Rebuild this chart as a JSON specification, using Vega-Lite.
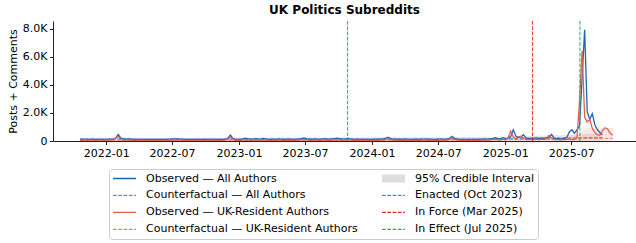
{
  "$schema": "https://vega.github.io/schema/vega-lite/v6.json",
  "width": 583,
  "height": 120,
  "autosize": "none",
  "padding": {"left": 53, "top": 21, "right": 0, "bottom": 102},
  "title": {"text": "UK Politics Subreddits", "fontSize": 12, "fontWeight": "bold", "font": "DejaVu Sans", "offset": 4, "anchor": "middle", "color": "#000"},
  "config": {
    "view": {"stroke": null},
    "font": "DejaVu Sans",
    "axis": {"grid": false, "domainColor": "#222", "tickColor": "#222", "tickSize": 3.5, "labelFontSize": 11, "labelColor": "#000", "labelFont": "DejaVu Sans", "titleFont": "DejaVu Sans", "titleFontSize": 11, "titleFontWeight": "normal", "titleColor": "#000", "labelPadding": 2.5, "labelOverlap": false},
    "axisY": {"values": [0,2000,4000,6000,8000], "labelExpr": "datum.value == 0 ? '0' : format(datum.value/1000, '.1f') + 'K'", "titlePadding": 4},
    "legend": {
      "orient": "none", "legendX": 56, "legendY": 148, "columns": 2, "title": null,
      "symbolType": "stroke", "symbolSize": 529, "symbolOpacity": 1, "symbolStrokeWidth": 1.3,
      "labelFont": "DejaVu Sans", "labelFontSize": 11, "labelColor": "#000", "labelOffset": 9, "labelLimit": 300,
      "clipHeight": 12.7, "rowPadding": 4, "columnPadding": 23, "padding": 3,
      "strokeColor": "#cccccc", "fillColor": "white", "cornerRadius": 3
    }
  },
  "datasets": {
    "w": [
      {"d":"2021-10-21","a":120,"u":60},{"d":"2021-10-28","a":130,"u":55},{"d":"2021-11-04","a":115,"u":60},{"d":"2021-11-11","a":125,"u":65},{"d":"2021-11-18","a":120,"u":55},{"d":"2021-11-25","a":130,"u":60},{"d":"2021-12-02","a":115,"u":50},{"d":"2021-12-09","a":120,"u":55},{"d":"2021-12-16","a":125,"u":60},{"d":"2021-12-23","a":110,"u":50},{"d":"2021-12-30","a":115,"u":55},
      {"d":"2022-01-06","a":120,"u":60},{"d":"2022-01-13","a":130,"u":60},{"d":"2022-01-20","a":140,"u":80},{"d":"2022-01-27","a":200,"u":220},{"d":"2022-02-03","a":470,"u":330},{"d":"2022-02-10","a":220,"u":90},{"d":"2022-02-17","a":150,"u":60},{"d":"2022-02-24","a":140,"u":55},{"d":"2022-03-03","a":150,"u":60},{"d":"2022-03-10","a":135,"u":55},{"d":"2022-03-17","a":120,"u":50},{"d":"2022-03-24","a":125,"u":55},{"d":"2022-03-31","a":115,"u":50},{"d":"2022-04-07","a":120,"u":55},{"d":"2022-04-14","a":110,"u":50},{"d":"2022-04-21","a":115,"u":50},{"d":"2022-04-28","a":110,"u":45},{"d":"2022-05-05","a":105,"u":50},{"d":"2022-05-12","a":110,"u":45},{"d":"2022-05-19","a":115,"u":50},{"d":"2022-05-26","a":110,"u":45},{"d":"2022-06-02","a":105,"u":50},{"d":"2022-06-09","a":110,"u":45},{"d":"2022-06-16","a":120,"u":50},{"d":"2022-06-23","a":130,"u":55},{"d":"2022-06-30","a":140,"u":60},{"d":"2022-07-07","a":150,"u":60},{"d":"2022-07-14","a":145,"u":55},{"d":"2022-07-21","a":140,"u":60},{"d":"2022-07-28","a":130,"u":55},{"d":"2022-08-04","a":120,"u":50},{"d":"2022-08-11","a":115,"u":50},{"d":"2022-08-18","a":110,"u":45},{"d":"2022-08-25","a":115,"u":50},{"d":"2022-09-01","a":110,"u":45},{"d":"2022-09-08","a":125,"u":55},{"d":"2022-09-15","a":120,"u":50},{"d":"2022-09-22","a":115,"u":50},{"d":"2022-09-29","a":125,"u":55},{"d":"2022-10-06","a":120,"u":50},{"d":"2022-10-13","a":115,"u":50},{"d":"2022-10-20","a":125,"u":55},{"d":"2022-10-27","a":120,"u":50},{"d":"2022-11-03","a":115,"u":50},{"d":"2022-11-10","a":110,"u":45},{"d":"2022-11-17","a":115,"u":50},{"d":"2022-11-24","a":130,"u":60},{"d":"2022-12-01","a":200,"u":150},{"d":"2022-12-08","a":430,"u":300},{"d":"2022-12-15","a":180,"u":100},{"d":"2022-12-22","a":120,"u":55},{"d":"2022-12-29","a":110,"u":50},
      {"d":"2023-01-05","a":120,"u":55},{"d":"2023-01-12","a":150,"u":60},{"d":"2023-01-19","a":200,"u":70},{"d":"2023-01-26","a":150,"u":60},{"d":"2023-02-02","a":130,"u":55},{"d":"2023-02-09","a":140,"u":60},{"d":"2023-02-16","a":170,"u":65},{"d":"2023-02-23","a":140,"u":55},{"d":"2023-03-02","a":130,"u":60},{"d":"2023-03-09","a":190,"u":70},{"d":"2023-03-16","a":140,"u":60},{"d":"2023-03-23","a":120,"u":55},{"d":"2023-03-30","a":125,"u":50},{"d":"2023-04-06","a":130,"u":55},{"d":"2023-04-13","a":120,"u":50},{"d":"2023-04-20","a":150,"u":60},{"d":"2023-04-27","a":130,"u":55},{"d":"2023-05-04","a":120,"u":50},{"d":"2023-05-11","a":125,"u":55},{"d":"2023-05-18","a":130,"u":50},{"d":"2023-05-25","a":120,"u":55},{"d":"2023-06-01","a":115,"u":50},{"d":"2023-06-08","a":125,"u":55},{"d":"2023-06-15","a":130,"u":60},{"d":"2023-06-22","a":170,"u":90},{"d":"2023-06-29","a":220,"u":110},{"d":"2023-07-06","a":150,"u":70},{"d":"2023-07-13","a":130,"u":55},{"d":"2023-07-20","a":125,"u":50},{"d":"2023-07-27","a":150,"u":60},{"d":"2023-08-03","a":130,"u":55},{"d":"2023-08-10","a":120,"u":50},{"d":"2023-08-17","a":140,"u":55},{"d":"2023-08-24","a":160,"u":60},{"d":"2023-08-31","a":140,"u":55},{"d":"2023-09-07","a":130,"u":50},{"d":"2023-09-14","a":150,"u":55},{"d":"2023-09-21","a":170,"u":60},{"d":"2023-09-28","a":200,"u":70},{"d":"2023-10-05","a":150,"u":60},{"d":"2023-10-12","a":130,"u":55},{"d":"2023-10-19","a":140,"u":60},{"d":"2023-10-26","a":180,"u":80},{"d":"2023-11-02","a":140,"u":60},{"d":"2023-11-09","a":125,"u":55},{"d":"2023-11-16","a":120,"u":50},{"d":"2023-11-23","a":130,"u":55},{"d":"2023-11-30","a":120,"u":50},{"d":"2023-12-07","a":115,"u":50},{"d":"2023-12-14","a":125,"u":55},{"d":"2023-12-21","a":120,"u":50},{"d":"2023-12-28","a":110,"u":45},
      {"d":"2024-01-04","a":120,"u":50},{"d":"2024-01-11","a":130,"u":55},{"d":"2024-01-18","a":125,"u":50},{"d":"2024-01-25","a":140,"u":60},{"d":"2024-02-01","a":150,"u":70},{"d":"2024-02-08","a":200,"u":110},{"d":"2024-02-15","a":270,"u":150},{"d":"2024-02-22","a":160,"u":80},{"d":"2024-02-29","a":130,"u":60},{"d":"2024-03-07","a":125,"u":55},{"d":"2024-03-14","a":130,"u":50},{"d":"2024-03-21","a":120,"u":50},{"d":"2024-03-28","a":125,"u":55},{"d":"2024-04-04","a":130,"u":50},{"d":"2024-04-11","a":120,"u":55},{"d":"2024-04-18","a":115,"u":50},{"d":"2024-04-25","a":125,"u":50},{"d":"2024-05-02","a":130,"u":55},{"d":"2024-05-09","a":120,"u":50},{"d":"2024-05-16","a":125,"u":55},{"d":"2024-05-23","a":140,"u":60},{"d":"2024-05-30","a":130,"u":55},{"d":"2024-06-06","a":125,"u":50},{"d":"2024-06-13","a":120,"u":55},{"d":"2024-06-20","a":115,"u":50},{"d":"2024-06-27","a":120,"u":50},{"d":"2024-07-04","a":130,"u":55},{"d":"2024-07-11","a":125,"u":60},{"d":"2024-07-18","a":120,"u":55},{"d":"2024-07-25","a":140,"u":70},{"d":"2024-08-01","a":190,"u":120},{"d":"2024-08-08","a":330,"u":230},{"d":"2024-08-15","a":180,"u":100},{"d":"2024-08-22","a":130,"u":60},{"d":"2024-08-29","a":120,"u":55},{"d":"2024-09-05","a":115,"u":50},{"d":"2024-09-12","a":120,"u":55},{"d":"2024-09-19","a":110,"u":50},{"d":"2024-09-26","a":115,"u":50},{"d":"2024-10-03","a":120,"u":55},{"d":"2024-10-10","a":110,"u":50},{"d":"2024-10-17","a":115,"u":50},{"d":"2024-10-24","a":120,"u":55},{"d":"2024-10-31","a":125,"u":60},{"d":"2024-11-07","a":140,"u":70},{"d":"2024-11-14","a":130,"u":60},{"d":"2024-11-21","a":150,"u":80},{"d":"2024-11-28","a":170,"u":100},{"d":"2024-12-05","a":230,"u":150},{"d":"2024-12-12","a":160,"u":90},{"d":"2024-12-19","a":150,"u":80},{"d":"2024-12-26","a":240,"u":120},
      {"d":"2025-01-02","a":160,"u":90},{"d":"2025-01-09","a":200,"u":250},{"d":"2025-01-16","a":320,"u":700},{"d":"2025-01-23","a":800,"u":300},{"d":"2025-01-30","a":350,"u":150},{"d":"2025-02-06","a":250,"u":300},{"d":"2025-02-13","a":300,"u":330},{"d":"2025-02-20","a":450,"u":200},{"d":"2025-02-27","a":220,"u":110},{"d":"2025-03-06","a":180,"u":100},{"d":"2025-03-13","a":200,"u":110},{"d":"2025-03-20","a":180,"u":100},{"d":"2025-03-27","a":220,"u":130},{"d":"2025-04-03","a":180,"u":100},{"d":"2025-04-10","a":200,"u":120},{"d":"2025-04-17","a":180,"u":110},{"d":"2025-04-24","a":230,"u":160},{"d":"2025-05-01","a":250,"u":400},{"d":"2025-05-08","a":480,"u":200},{"d":"2025-05-15","a":200,"u":110},{"d":"2025-05-22","a":170,"u":100},{"d":"2025-05-29","a":160,"u":90},{"d":"2025-06-05","a":150,"u":90},{"d":"2025-06-12","a":170,"u":100},{"d":"2025-06-19","a":250,"u":110},{"d":"2025-06-26","a":650,"u":130},{"d":"2025-07-03","a":800,"u":110},{"d":"2025-07-10","a":550,"u":100},{"d":"2025-07-17","a":800,"u":250},{"d":"2025-07-24","a":1100,"u":2900},{"d":"2025-07-31","a":4500,"u":6450},{"d":"2025-08-07","a":7950,"u":1700},{"d":"2025-08-14","a":2100,"u":1350},{"d":"2025-08-21","a":1550,"u":1550},{"d":"2025-08-28","a":1950,"u":900},{"d":"2025-09-04","a":1150,"u":600},{"d":"2025-09-11","a":800,"u":450},{"d":"2025-09-18","a":600,"u":420},{"d":"2025-09-25","a":450,"u":750},{"d":"2025-10-02","a":null,"u":950},{"d":"2025-10-09","a":null,"u":850},{"d":"2025-10-16","a":null,"u":550},{"d":"2025-10-23","a":null,"u":420}
    ],
    "b": [
      {"d":"2021-10-21","ca":130,"cu":55,"al":20,"ah":240,"ul":0,"uh":110},
      {"d":"2022-04-21","ca":125,"cu":55,"al":20,"ah":240,"ul":0,"uh":110},
      {"d":"2022-10-20","ca":125,"cu":55,"al":20,"ah":240,"ul":0,"uh":110},
      {"d":"2023-04-20","ca":130,"cu":55,"al":20,"ah":250,"ul":0,"uh":110},
      {"d":"2023-10-19","ca":135,"cu":60,"al":20,"ah":260,"ul":0,"uh":120},
      {"d":"2024-04-18","ca":130,"cu":60,"al":20,"ah":260,"ul":0,"uh":120},
      {"d":"2024-10-17","ca":140,"cu":70,"al":20,"ah":280,"ul":0,"uh":140},
      {"d":"2025-01-02","ca":170,"cu":90,"al":30,"ah":330,"ul":0,"uh":180},
      {"d":"2025-03-20","ca":200,"cu":110,"al":40,"ah":380,"ul":0,"uh":220},
      {"d":"2025-06-19","ca":220,"cu":130,"al":40,"ah":420,"ul":0,"uh":280},
      {"d":"2025-07-24","ca":230,"cu":160,"al":40,"ah":450,"ul":0,"uh":500},
      {"d":"2025-08-07","ca":240,"cu":180,"al":40,"ah":500,"ul":0,"uh":900},
      {"d":"2025-09-25","ca":250,"cu":190,"al":40,"ah":550,"ul":0,"uh":920},
      {"d":"2025-10-23","ca":null,"cu":190,"al":null,"ah":null,"ul":0,"uh":920}
    ],
    "r": [
      {"d":"2023-10-26","k":"Enacted (Oct 2023)"},
      {"d":"2025-03-17","k":"In Force (Mar 2025)"},
      {"d":"2025-07-25","k":"In Effect (Jul 2025)"}
    ]
  },
  "layer": [
    {
      "data": {"name": "b"},
      "mark": {"type": "area", "opacity": 0.75},
      "encoding": {
        "x": {"field": "d", "type": "temporal", "title": null,
          "scale": {"type": "utc", "domain": [{"year":2021,"month":8,"date":8,"utc":true},{"year":2025,"month":12,"date":26,"utc":true}]},
          "axis": {"format": "%Y-%m", "values": [
            {"year":2022,"month":1,"date":1,"utc":true},{"year":2022,"month":7,"date":1,"utc":true},
            {"year":2023,"month":1,"date":1,"utc":true},{"year":2023,"month":7,"date":1,"utc":true},
            {"year":2024,"month":1,"date":1,"utc":true},{"year":2024,"month":7,"date":1,"utc":true},
            {"year":2025,"month":1,"date":1,"utc":true},{"year":2025,"month":7,"date":1,"utc":true}]}},
        "y": {"field": "ah", "type": "quantitative", "title": "Posts + Comments",
          "scale": {"domain": [0, 8570], "nice": false}},
        "y2": {"field": "al"},
        "color": {"datum": "95% Credible Interval", "type": "nominal", "title": null,
          "scale": {
            "domain": ["Observed — All Authors","Counterfactual — All Authors","Observed — UK-Resident Authors","Counterfactual — UK-Resident Authors","95% Credible Interval","Enacted (Oct 2023)","In Force (Mar 2025)","In Effect (Jul 2025)"],
            "range": ["#1f63b8","#4f8fe6","#e0604a","#f07a6e","#dddddd","#2a93ec","#e0262a","#1fb452"]}}
      }
    },
    {
      "data": {"name": "b"},
      "mark": {"type": "area", "color": "#f4b0a8", "opacity": 0.3},
      "encoding": {
        "x": {"field": "d", "type": "temporal", "title": null},
        "y": {"field": "uh", "type": "quantitative", "title": "Posts + Comments"},
        "y2": {"field": "ul"}
      }
    },
    {
      "data": {"name": "b"},
      "mark": {"type": "point", "opacity": 0, "filled": false},
      "encoding": {
        "x": {"field": "d", "type": "temporal", "title": null},
        "y": {"field": "ul", "type": "quantitative", "title": "Posts + Comments"},
        "shape": {"datum": "95% Credible Interval", "type": "nominal", "title": null,
          "scale": {
            "domain": ["Observed — All Authors","Counterfactual — All Authors","Observed — UK-Resident Authors","Counterfactual — UK-Resident Authors","95% Credible Interval","Enacted (Oct 2023)","In Force (Mar 2025)","In Effect (Jul 2025)"],
            "range": ["stroke","stroke","stroke","stroke","M-1,-0.3H1M-1,-0.2H1M-1,-0.1H1M-1,0H1M-1,0.1H1M-1,0.2H1M-1,0.3H1","stroke","stroke","stroke"]}}
      }
    },
    {
      "data": {"name": "b"},
      "mark": {"type": "line", "strokeWidth": 1},
      "encoding": {
        "x": {"field": "d", "type": "temporal", "title": null},
        "y": {"field": "ca", "type": "quantitative", "title": "Posts + Comments"},
        "color": {"datum": "Counterfactual — All Authors", "type": "nominal", "title": null},
        "strokeDash": {"datum": "Counterfactual — All Authors", "type": "nominal", "title": null,
          "scale": {
            "domain": ["Observed — All Authors","Counterfactual — All Authors","Observed — UK-Resident Authors","Counterfactual — UK-Resident Authors","95% Credible Interval","Enacted (Oct 2023)","In Force (Mar 2025)","In Effect (Jul 2025)"],
            "range": [[1,0],[3.7,1.6],[1,0],[3.7,1.6],[1,0],[3.7,1.6],[3.7,1.6],[3.7,1.6]]}}
      }
    },
    {
      "data": {"name": "b"},
      "mark": {"type": "line", "strokeWidth": 1},
      "encoding": {
        "x": {"field": "d", "type": "temporal", "title": null},
        "y": {"field": "cu", "type": "quantitative", "title": "Posts + Comments"},
        "color": {"datum": "Counterfactual — UK-Resident Authors", "type": "nominal", "title": null},
        "strokeDash": {"datum": "Counterfactual — UK-Resident Authors", "type": "nominal", "title": null}
      }
    },
    {
      "data": {"name": "w"},
      "mark": {"type": "line", "strokeWidth": 1.3},
      "encoding": {
        "x": {"field": "d", "type": "temporal", "title": null},
        "y": {"field": "a", "type": "quantitative", "title": "Posts + Comments"},
        "color": {"datum": "Observed — All Authors", "type": "nominal", "title": null},
        "strokeDash": {"datum": "Observed — All Authors", "type": "nominal", "title": null}
      }
    },
    {
      "data": {"name": "w"},
      "mark": {"type": "line", "strokeWidth": 1.3},
      "encoding": {
        "x": {"field": "d", "type": "temporal", "title": null},
        "y": {"field": "u", "type": "quantitative", "title": "Posts + Comments"},
        "color": {"datum": "Observed — UK-Resident Authors", "type": "nominal", "title": null},
        "strokeDash": {"datum": "Observed — UK-Resident Authors", "type": "nominal", "title": null}
      }
    },
    {
      "data": {"name": "r"},
      "mark": {"type": "rule", "strokeWidth": 1},
      "encoding": {
        "x": {"field": "d", "type": "temporal", "title": null},
        "color": {"field": "k", "type": "nominal", "title": null},
        "strokeDash": {"field": "k", "type": "nominal", "title": null}
      }
    }
  ]
}
